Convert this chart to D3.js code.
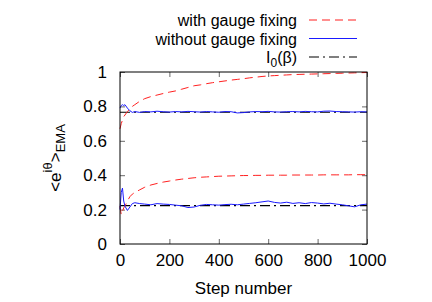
<!DOCTYPE html>
<html>
<head>
<meta charset="utf-8">
<script src="https://cdn.jsdelivr.net/npm/d3@7"></script>
<style>
  body { margin: 0; background: #fff; }
  svg text { font-family: "Liberation Sans", Arial, sans-serif; fill: #000; }
</style>
</head>
<body>
<svg id="chart"></svg>
<script>
// step numbers at which the EMA was sampled
const steps = [0, 5, 10, 15, 20, 30, 40, 50, 60, 80, 100,
  125, 150, 175, 200, 225, 250, 275, 300, 325, 350, 375, 400, 425, 450, 475, 500,
  525, 550, 575, 600, 625, 650, 675, 700, 725, 750, 775, 800, 825, 850, 875, 900,
  925, 950, 975, 1000];

// with gauge fixing (red dashed)
const gaugeHigh = [0.67, 0.70, 0.72, 0.74, 0.75, 0.77, 0.785, 0.80, 0.81, 0.83, 0.845,
  0.857, 0.866, 0.875, 0.883, 0.89, 0.90, 0.91, 0.92, 0.925, 0.932, 0.938, 0.943,
  0.948, 0.953, 0.957, 0.961, 0.966, 0.970, 0.974, 0.977, 0.979, 0.981, 0.983,
  0.985, 0.986, 0.987, 0.988, 0.989, 0.99, 0.991, 0.992, 0.993, 0.994, 0.995, 0.996, 0.997];
const gaugeLow = [0.22, 0.17, 0.19, 0.21, 0.22, 0.25, 0.275, 0.29, 0.30, 0.315, 0.33,
  0.343, 0.352, 0.36, 0.366, 0.372, 0.377, 0.381, 0.385, 0.388, 0.39, 0.392, 0.394,
  0.395, 0.396, 0.397, 0.398, 0.398, 0.399, 0.399, 0.4, 0.4, 0.4, 0.4, 0.401, 0.401,
  0.401, 0.401, 0.401, 0.402, 0.402, 0.402, 0.402, 0.402, 0.403, 0.403, 0.403];

// without gauge fixing (blue solid)
const noGaugeHigh = [0.79, 0.805, 0.81, 0.805, 0.81, 0.79, 0.775, 0.765, 0.77, 0.765, 0.77,
  0.768, 0.772, 0.769, 0.767, 0.770, 0.768, 0.771, 0.769, 0.767, 0.770, 0.768, 0.766,
  0.770, 0.769, 0.762, 0.764, 0.768, 0.770, 0.769, 0.771, 0.768, 0.767, 0.769, 0.770,
  0.768, 0.771, 0.769, 0.768, 0.772, 0.773, 0.770, 0.769, 0.768, 0.767, 0.769, 0.768];
const noGaugeLow = [0.2, 0.3, 0.325, 0.25, 0.22, 0.195, 0.215, 0.235, 0.24, 0.235, 0.232,
  0.228, 0.235, 0.232, 0.23, 0.226, 0.222, 0.212, 0.215, 0.225, 0.23, 0.228, 0.226,
  0.229, 0.231, 0.228, 0.232, 0.236, 0.24, 0.245, 0.25, 0.242, 0.238, 0.243, 0.236,
  0.24, 0.235, 0.241, 0.238, 0.233, 0.237, 0.232, 0.228, 0.222, 0.216, 0.228, 0.232];

// I0(beta) reference levels (black dash-dot)
const besselLevels = [0.766, 0.223];

const xTicks = [0, 200, 400, 600, 800, 1000];
const yTicks = [0, 0.2, 0.4, 0.6, 0.8, 1];

const W = 432, H = 302;
const margin = { top: 72, right: 65, bottom: 58, left: 120 };
const width = W - margin.left - margin.right,
  height = H - margin.top - margin.bottom;

const svg = d3.select("#chart").attr("width", W).attr("height", H);
const g = svg.append("g").attr("transform", `translate(${margin.left},${margin.top})`);

const x = d3.scaleLinear().domain([0, 1000]).range([0, width]);
const y = d3.scaleLinear().domain([0, 1]).range([height, 0]);

// axes with inward ticks, mirrored gnuplot style
const axisStyle = sel => {
  sel.select(".domain").remove();
  sel.selectAll("line").attr("stroke", "#000").attr("stroke-width", 0.6);
  sel.selectAll("text").style("font-size", "17px");
};
g.append("g").attr("transform", `translate(0,${height})`)
  .call(d3.axisBottom(x).tickValues(xTicks).tickSize(-5).tickPadding(10).tickFormat(d3.format("d")))
  .call(axisStyle);
g.append("g")
  .call(d3.axisTop(x).tickValues(xTicks).tickSize(-5).tickFormat(""))
  .call(axisStyle);
g.append("g")
  .call(d3.axisLeft(y).tickValues(yTicks).tickSize(-5).tickPadding(13).tickFormat(d3.format("~g")))
  .call(axisStyle);
g.append("g").attr("transform", `translate(${width},0)`)
  .call(d3.axisRight(y).tickValues(yTicks).tickSize(-5).tickFormat(""))
  .call(axisStyle);

// series
const line = d3.line().x((d, i) => x(steps[i])).y(d => y(d));

besselLevels.forEach(v => {
  g.append("path")
    .attr("d", d3.line().x(d => x(d)).y(() => y(v))([0, 1000]))
    .attr("fill", "none").attr("stroke", "#000").attr("stroke-width", 1.2)
    .attr("stroke-dasharray", "10,4,2,4");
});
[gaugeHigh, gaugeLow].forEach(s => {
  g.append("path").attr("d", line(s))
    .attr("fill", "none").attr("stroke", "#ff2020").attr("stroke-width", 1)
    .attr("stroke-dasharray", "8,5");
});
[noGaugeHigh, noGaugeLow].forEach(s => {
  g.append("path").attr("d", line(s))
    .attr("fill", "none").attr("stroke", "#1a1aff").attr("stroke-width", 1);
});

// frame
g.append("rect").attr("width", width).attr("height", height)
  .attr("fill", "none").attr("stroke", "#000").attr("stroke-width", 1);

// axis titles
svg.append("text").attr("x", margin.left + width / 2).attr("y", 294)
  .attr("text-anchor", "middle").style("font-size", "17px").text("Step number");

const yl = svg.append("text")
  .attr("transform", `translate(61,${margin.top + height / 2}) rotate(-90)`)
  .attr("text-anchor", "middle").style("font-size", "17px");
yl.append("tspan").text("<e");
yl.append("tspan").attr("dy", -9).style("font-size", "13px").text("iθ");
yl.append("tspan").attr("dy", 9).text(">");
yl.append("tspan").attr("dy", 4).style("font-size", "13px").text("EMA");

// legend
const legend = [
  { label: "with gauge fixing", color: "#ff2020", dash: "8,5" },
  { label: "without gauge fixing", color: "#1a1aff", dash: null },
  { label: "I0(β)", color: "#000", dash: "10,4,2,4" }
];
const lg = svg.append("g");
legend.forEach((d, i) => {
  const yy = 20 + i * 18.5;
  const t = lg.append("text").attr("x", 297).attr("y", yy + 6)
    .attr("text-anchor", "end").style("font-size", "16px");
  if (i === 2) {
    t.append("tspan").text("I");
    t.append("tspan").attr("dy", 4).style("font-size", "12px").text("0");
    t.append("tspan").attr("dy", -4).text("(β)");
  } else {
    t.text(d.label);
  }
  lg.append("line").attr("x1", 309).attr("x2", 357).attr("y1", yy).attr("y2", yy)
    .attr("stroke", d.color).attr("stroke-width", 1.2)
    .attr("stroke-dasharray", d.dash);
});
</script>
</body>
</html>
